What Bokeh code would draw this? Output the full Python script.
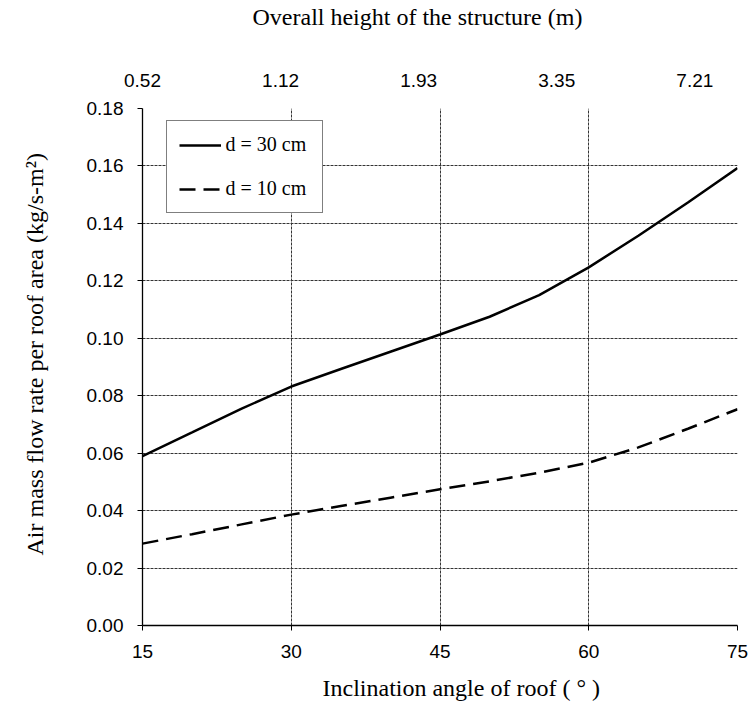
import numpy as np
from bokeh.plotting import figure
from bokeh.models import (LinearAxis, Range1d, FixedTicker, Legend, LegendItem,
                          NumeralTickFormatter, ColumnDataSource, Title)
from bokeh.embed import file_html
from bokeh.resources import INLINE

# ---- data ----
angle = [15, 20, 25, 30, 35, 40, 45, 50, 55, 60, 65, 70, 75]
flow_d30 = [0.0590, 0.0672, 0.0755, 0.0832, 0.0893, 0.0953, 0.1013,
            0.1075, 0.1150, 0.1247, 0.1357, 0.1473, 0.1593]
flow_d10 = [0.0285, 0.0318, 0.0352, 0.0386, 0.0416, 0.0445, 0.0474,
            0.0502, 0.0532, 0.0567, 0.0620, 0.0685, 0.0753]
x_ticks = [15, 30, 45, 60, 75]
y_ticks = [0.00, 0.02, 0.04, 0.06, 0.08, 0.10, 0.12, 0.14, 0.16, 0.18]
height_labels = ["0.52", "1.12", "1.93", "3.35", "7.21"]
series_names = ["d = 30 cm", "d = 10 cm"]
x_title = "Inclination angle of roof ( \u00b0 )"
y_title = "Air mass flow rate per roof area (kg/s-m\u00b2)"
top_title = "Overall height of the structure (m)"

SANS = "Liberation Sans"
SERIF = "Liberation Serif"
TITLE_SIZE = "24px"

p = figure(width=748, height=703, x_range=Range1d(15, 75), y_range=Range1d(0, 0.18),
           output_backend="svg", toolbar_location=None,
           min_border_left=142, min_border_right=11, min_border_top=108,
           min_border_bottom=78)
p.outline_line_color = None
p.background_fill_color = "white"

src = ColumnDataSource(dict(x=angle, a=flow_d30, b=flow_d10))
r1 = p.line("x", "a", source=src, line_color="black", line_width=2.5)
r2 = p.line("x", "b", source=src, line_color="black", line_width=2.5, line_dash="16 8")

# axes
xa = p.xaxis[0]
xa.ticker = FixedTicker(ticks=x_ticks)
ya = p.yaxis[0]
ya.ticker = FixedTicker(ticks=y_ticks)
ya.formatter = NumeralTickFormatter(format="0.00")
for ax in (xa, ya):
    ax.axis_line_color = "black"
    ax.axis_line_width = 1.3
    ax.major_tick_line_color = "black"
    ax.major_tick_out = 5
    ax.major_tick_in = 0
    ax.minor_tick_line_color = None
    ax.major_label_text_font = SANS
    ax.major_label_text_font_size = "19px"
    ax.major_label_text_color = "black"
xa.major_label_standoff = 14
ya.major_label_standoff = 14

# top axis
top_pos = list(np.linspace(15, 70.7, len(height_labels)))
top = LinearAxis(ticker=FixedTicker(ticks=top_pos),
                 major_label_overrides={t: l for t, l in zip(top_pos, height_labels)},
                 axis_line_color=None, major_tick_line_color=None,
                 minor_tick_line_color=None,
                 major_label_text_font=SANS, major_label_text_font_size="19px",
                 major_label_text_color="black", major_label_standoff=16)
p.add_layout(top, "above")

def mk_title(text, offset, pad):
    # pad = (left, right, top, bottom)
    return Title(text=text, align="left", offset=offset, standoff=0,
                 vertical_align="middle", padding=pad,
                 text_font=SERIF, text_font_size=TITLE_SIZE,
                 text_font_style="normal", text_color="black")

p.add_layout(mk_title(top_title, 110, (0, 0, 0, 40)), "above")
p.add_layout(mk_title(x_title, 180, (0, 0, 13, 0)), "below")
p.add_layout(mk_title(y_title, 70, (0, 0, 0, 69)), "left")

# grid
for g in (p.xgrid[0], p.ygrid[0]):
    g.grid_line_color = "#333333"
    g.grid_line_dash = "3 1"
    g.grid_line_width = 1
p.xgrid[0].ticker = FixedTicker(ticks=x_ticks)
p.ygrid[0].ticker = FixedTicker(ticks=y_ticks)

legend = Legend(items=[LegendItem(label=series_names[0], renderers=[r1]),
                       LegendItem(label=series_names[1], renderers=[r2])],
                location=(23.5, 412), border_line_color="black", border_line_width=1,
                background_fill_color="white", background_fill_alpha=1,
                label_text_font=SERIF, label_text_font_size="20px",
                label_text_color="black",
                glyph_width=42, glyph_height=20, label_height=20, label_width=84,
                label_standoff=5, padding=12, spacing=21, margin=0)
p.add_layout(legend, "center")

open("out.html", "w").write(file_html(p, INLINE))
